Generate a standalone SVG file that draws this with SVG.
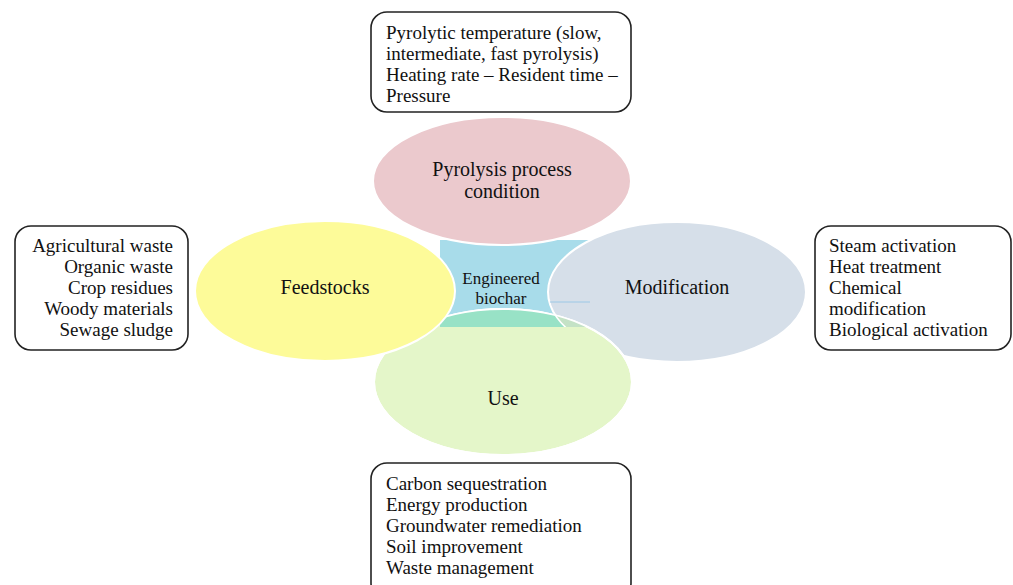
<svg xmlns="http://www.w3.org/2000/svg" width="1013" height="585" viewBox="0 0 1013 585">
<style>
.t{font-family:"Liberation Serif","Times New Roman",serif;font-size:19px;fill:#111}
.l{font-family:"Liberation Serif","Times New Roman",serif;font-size:20px;fill:#111;text-anchor:middle}
.c{font-family:"Liberation Serif","Times New Roman",serif;font-size:17px;fill:#111;text-anchor:middle}
.box{fill:#fff;stroke:#222;stroke-width:1.6}
.el{stroke:#fff;stroke-width:2}
</style>
<defs>
<clipPath id="cpUse"><ellipse cx="503" cy="382" rx="129" ry="73"/></clipPath>
<clipPath id="cpRect"><rect x="440" y="240" width="160" height="87"/></clipPath>
</defs>
<g id="center">
<rect x="440" y="240" width="160" height="87" fill="#a8dcea"/>
</g>
<g id="pyrolysis">
<ellipse class="el" cx="502" cy="181" rx="129" ry="64" fill="#ebc9cd"/>
<text class="l" x="502" y="176">Pyrolysis process</text>
<text class="l" x="502" y="198">condition</text>
</g>
<g id="modification">
<ellipse class="el" cx="677" cy="292" rx="129" ry="70" fill="#d6dfe9"/>
<text class="l" x="677" y="294">Modification</text>
</g>
<g id="use">
<ellipse class="el" cx="503" cy="382" rx="129" ry="73" fill="#e4f6c9"/>
<g clip-path="url(#cpUse)"><g clip-path="url(#cpRect)">
<rect x="440" y="240" width="160" height="87" fill="#98e2c6"/>
<ellipse cx="677" cy="292" rx="129" ry="70" fill="#c4e2c6" stroke="#fff" stroke-width="1.5"/>
</g></g>
<ellipse cx="503" cy="382" rx="129" ry="73" fill="none" stroke="#fff" stroke-width="2"/>
<text class="l" x="503" y="405">Use</text>
</g>
<g id="feedstocks">
<ellipse class="el" cx="325" cy="291" rx="130" ry="70" fill="#fdfb99"/>
<text class="l" x="325" y="294">Feedstocks</text>
</g>
<g id="center-label">
<text class="c" x="501" y="284">Engineered</text>
<text class="c" x="501" y="304">biochar</text>
</g>
<g id="connectors">
<line x1="550" y1="302" x2="590" y2="302" stroke="#9cc8e6" stroke-width="1"/>
</g>
<g id="box-top">
<rect class="box" x="371" y="12" width="260" height="100" rx="16"/>
<text class="t" x="386" y="39">Pyrolytic temperature (slow,</text>
<text class="t" x="386" y="60">intermediate, fast pyrolysis)</text>
<text class="t" x="386" y="81">Heating rate – Resident time –</text>
<text class="t" x="386" y="102">Pressure</text>
</g>
<g id="box-left">
<rect class="box" x="15" y="226" width="173" height="124" rx="16"/>
<text class="t" x="173" y="252" text-anchor="end">Agricultural waste</text>
<text class="t" x="173" y="273" text-anchor="end">Organic waste</text>
<text class="t" x="173" y="294" text-anchor="end">Crop residues</text>
<text class="t" x="173" y="315" text-anchor="end">Woody materials</text>
<text class="t" x="173" y="336" text-anchor="end">Sewage sludge</text>
</g>
<g id="box-right">
<rect class="box" x="815" y="226" width="196" height="124" rx="16"/>
<text class="t" x="829" y="252">Steam activation</text>
<text class="t" x="829" y="273">Heat treatment</text>
<text class="t" x="829" y="294">Chemical</text>
<text class="t" x="829" y="315">modification</text>
<text class="t" x="829" y="336">Biological activation</text>
</g>
<g id="box-bottom">
<rect class="box" x="371" y="463" width="260" height="136" rx="16"/>
<text class="t" x="386" y="490">Carbon sequestration</text>
<text class="t" x="386" y="511">Energy production</text>
<text class="t" x="386" y="532">Groundwater remediation</text>
<text class="t" x="386" y="553">Soil improvement</text>
<text class="t" x="386" y="574">Waste management</text>
</g>
</svg>
